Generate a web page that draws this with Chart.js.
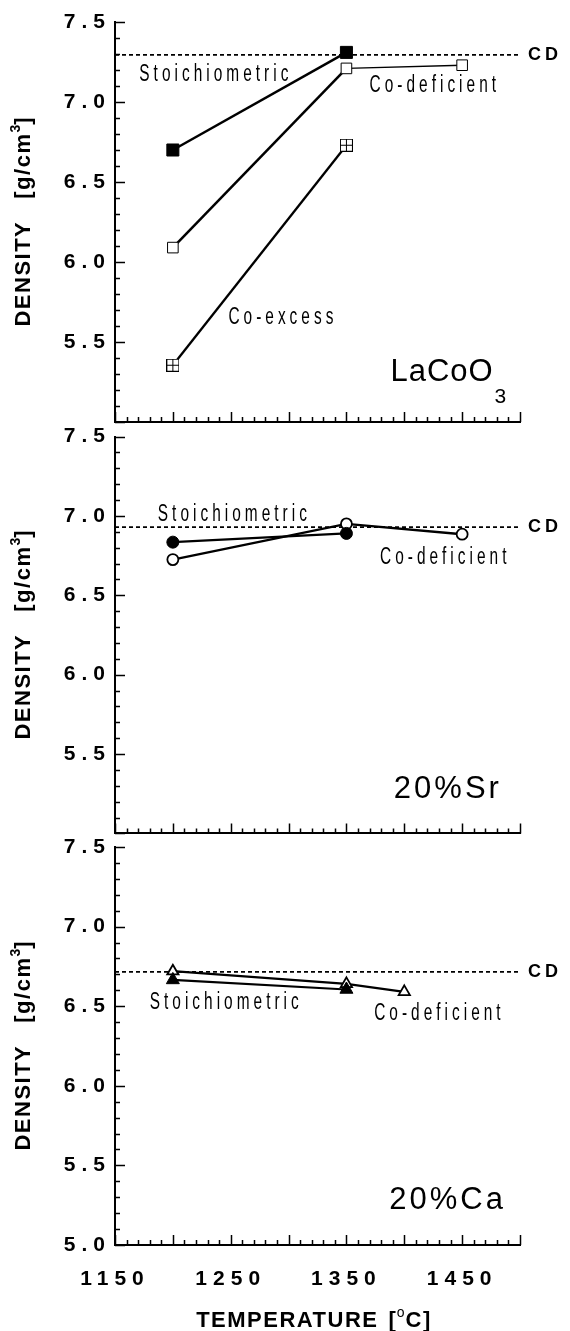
<!DOCTYPE html>
<html><head><meta charset="utf-8">
<script src="https://cdn.jsdelivr.net/npm/chart.js@4"></script>
<style>
html,body{margin:0;padding:0;background:#fff;}
#wrap{position:relative;width:570px;height:1331px;overflow:hidden;background:#fff;}
canvas{position:absolute;left:0;}
</style></head><body>
<div id="wrap">
<canvas id="c1" style="top:0px" width="570" height="440"></canvas>
<canvas id="c2" style="top:420px" width="570" height="430"></canvas>
<canvas id="c3" style="top:830px" width="570" height="501"></canvas>
</div>
<script>
// ---------------- data ----------------
const tempLa = [1200, 1350, 1450];
const laStoich = [6.70, 7.31];
const laCoDef = [6.09, 7.21, 7.23];
const laCoEx = [5.355, 6.73];
const laCD = 7.295;

const tempSr = [1200, 1350, 1450];
const srStoich = [6.835, 6.89];
const srCoDef = [6.725, 6.95, 6.885];
const srCD = 6.93;

const tempCa = [1200, 1350, 1400];
const caStoich = [6.665, 6.605];
const caCoDef = [6.72, 6.64, 6.59];
const caCD = 6.715;

const xRange = [1150, 1500];
const yRange = [5.0, 7.5];
const xTickLabels = [1150, 1250, 1350, 1450];
const yTickLabelsUpper = [5.5, 6.0, 6.5, 7.0, 7.5];
const yTickLabelsLower = [5.0, 5.5, 6.0, 6.5, 7.0, 7.5];

// ---------------- helpers ----------------
const FAM = '"Liberation Sans", Arial, Helvetica, sans-serif';
function pts(xs, ys) { return ys.map((y, i) => ({ x: xs[i], y: y })); }
function cdLine(v) { return xRange.map(x => ({ x: x, y: v })); }

function crossSquare() {
  const s = 13, c = document.createElement('canvas');
  c.width = s; c.height = s;
  const g = c.getContext('2d');
  g.fillStyle = '#fff'; g.fillRect(0, 0, s, s);
  g.strokeStyle = '#000'; g.lineWidth = 1;
  g.strokeRect(0.5, 0.5, s - 1, s - 1);
  g.beginPath();
  g.moveTo(6.5, 0.5); g.lineTo(6.5, s - 0.5);
  g.moveTo(0.5, 6.5); g.lineTo(s - 0.5, 6.5);
  g.stroke();
  return c;
}

function drawRun(ctx, parts, x, y, align, sx) {
  ctx.save();
  const ws = parts.map(p => {
    if (p.gap) return p.gap;
    ctx.font = p.font; ctx.letterSpacing = (p.ls || 0) + 'px';
    return ctx.measureText(p.t).width;
  });
  const total = ws.reduce((a, b) => a + b, 0);
  ctx.translate(x, y);
  ctx.scale(sx || 1, 1);
  let cx = align === 'center' ? -total / 2 : (align === 'right' ? -total : 0);
  ctx.textAlign = 'left'; ctx.textBaseline = 'middle'; ctx.fillStyle = '#000';
  parts.forEach((p, i) => {
    if (!p.gap) {
      ctx.font = p.font; ctx.letterSpacing = (p.ls || 0) + 'px';
      ctx.fillText(p.t, cx, p.dy || 0);
    }
    cx += ws[i];
  });
  ctx.restore();
}

const deco = {
  id: 'deco',
  beforeDraw(chart) { chart.ctx.letterSpacing = '6px'; },
  beforeDatasetsDraw(chart) {
    const ctx = chart.ctx; ctx.letterSpacing = '0px';
    const xs = chart.scales.x, ys = chart.scales.y, a = chart.chartArea;
    ctx.save();
    ctx.strokeStyle = '#000'; ctx.lineWidth = 1.5;
    ctx.beginPath();
    for (let k = 0; k <= 35; k++) {
      const v = xRange[0] + k * 10;
      const px = Math.round(xs.getPixelForValue(v)) + 0.5;
      const len = (k % 5 === 0) ? 10 : 5;
      ctx.moveTo(px, a.bottom); ctx.lineTo(px, a.bottom - len);
    }
    for (let k = 0; k <= 25; k++) {
      const v = yRange[0] + k * 0.1;
      const py = Math.round(ys.getPixelForValue(v)) + 0.5;
      const len = (k % 5 === 0) ? 10 : 5;
      ctx.moveTo(a.left, py); ctx.lineTo(a.left + len, py);
    }
    ctx.stroke();
    ctx.restore();
  },
  afterDraw(chart, args, opts) {
    const ctx = chart.ctx, xs = chart.scales.x, ys = chart.scales.y, a = chart.chartArea;
    ctx.save();
    ctx.letterSpacing = '0px';
    (opts.texts || []).forEach(o => {
      const x = xs.getPixelForValue(o.x), y = ys.getPixelForValue(o.y);
      drawRun(ctx, o.parts, x, y, 'left', o.sx || 1);
    });
    ctx.save();
    ctx.translate(24, (a.top + a.bottom) / 2);
    ctx.rotate(-Math.PI / 2);
    drawRun(ctx, [
      { t: 'DENSITY', font: 'bold 22px ' + FAM, ls: 1.5 },
      { gap: 22 },
      { t: '[g/cm', font: 'bold 22px ' + FAM, ls: 1.5 },
      { t: '3', font: 'bold 14px ' + FAM, ls: 0, dy: -8 },
      { t: ']', font: 'bold 22px ' + FAM, ls: 0 }
    ], 0, 0, 'center', 1);
    ctx.restore();
    if (opts.xTitle) {
      drawRun(ctx, [
        { t: 'TEMPERATURE', font: 'bold 22px ' + FAM, ls: 1.5 },
        { gap: 10 },
        { t: '[', font: 'bold 22px ' + FAM, ls: 1 },
        { t: 'o', font: '14px ' + FAM, ls: 1, dy: -8 },
        { t: 'C]', font: 'bold 22px ' + FAM, ls: 1.5 }
      ], 314, a.bottom + 76, 'center', 1);
    }
    ctx.restore();
  }
};

function lbl(t, x, y) {
  return { x: x, y: y, sx: 0.67, parts: [{ t: t, font: '23px ' + FAM, ls: 6 }] };
}
function cdLbl(y) {
  return { x: 1507, y: y, parts: [{ t: 'CD', font: 'bold 18px ' + FAM, ls: 4 }] };
}
function big(t, x, y, ls) {
  return { x: x, y: y, parts: [{ t: t, font: '31px ' + FAM, ls: ls }] };
}

function makeChart(id, datasets, o) {
  const near = (v, arr) => arr.some(a => Math.abs(a - v) < 1e-6);
  return new Chart(document.getElementById(id), {
    type: 'line',
    data: { datasets: datasets },
    plugins: [deco],
    options: {
      responsive: false, animation: false, devicePixelRatio: 1,
      layout: { padding: { top: o.padTop, right: 50, bottom: 0, left: 0 } },
      plugins: { legend: { display: false }, tooltip: { enabled: false }, deco: { texts: o.texts, xTitle: o.xTitle } },
      elements: { line: { tension: 0 } },
      scales: {
        x: {
          type: 'linear', min: xRange[0], max: xRange[1],
          afterFit: s => { s.height = o.xHeight; },
          grid: { display: false, drawTicks: false },
          border: { display: true, color: '#000', width: 2 },
          ticks: {
            display: o.showX, stepSize: 50, autoSkip: false, maxRotation: 0, padding: 22, color: '#000',
            font: { family: FAM, size: 21, weight: 'bold' },
            callback: v => near(v, xTickLabels) ? String(v) : ''
          }
        },
        y: {
          type: 'linear', min: yRange[0], max: yRange[1],
          afterFit: s => { s.width = 115; },
          grid: { display: false, drawTicks: false },
          border: { display: true, color: '#000', width: 2 },
          ticks: {
            stepSize: 0.5, autoSkip: false, padding: 4, color: '#000',
            font: { family: FAM, size: 21, weight: 'bold' },
            callback: v => near(v, o.yLabels) ? v.toFixed(1) : ''
          }
        }
      }
    }
  });
}

const crossImg = crossSquare();
const cdStyle = { borderColor: '#000', borderWidth: 1.8, borderDash: [4, 3], pointRadius: 0, fill: false };

// ---------- Panel 1: LaCoO3 ----------
makeChart('c1', [
  { label: 'Stoichiometric', data: pts(tempLa, laStoich), borderColor: '#000', borderWidth: 2.5,
    pointStyle: 'rect', pointRadius: 8.5, pointBackgroundColor: '#000', pointBorderColor: '#000', pointBorderWidth: 1 },
  { label: 'Co-deficient', data: pts(tempLa, laCoDef), borderColor: '#000', borderWidth: 2.5,
    segment: { borderWidth: c => c.p0DataIndex === 1 ? 1.4 : 2.5 },
    pointStyle: 'rect', pointRadius: 7.5, pointBackgroundColor: '#fff', pointBorderColor: '#000', pointBorderWidth: 1 },
  { label: 'Co-excess', data: pts(tempLa, laCoEx), borderColor: '#000', borderWidth: 2.3,
    pointStyle: crossImg, pointRadius: 7 },
  Object.assign({ label: 'CD', data: cdLine(laCD) }, cdStyle)
], {
  padTop: 22, xHeight: 18, showX: false, yLabels: yTickLabelsUpper,
  texts: [
    lbl('Stoichiometric', 1171, 7.17),
    lbl('Co-deficient', 1370, 7.10),
    lbl('Co-excess', 1248, 5.65),
    big('LaCoO', 1388, 5.31, 1),
    { x: 1478, y: 5.155, parts: [{ t: '3', font: '21px ' + FAM, ls: 0 }] },
    cdLbl(laCD)
  ]
});

// ---------- Panel 2: 20%Sr ----------
makeChart('c2', [
  { label: 'Stoichiometric', data: pts(tempSr, srStoich), borderColor: '#000', borderWidth: 2.4,
    pointStyle: 'circle', pointRadius: 6, pointBackgroundColor: '#000', pointBorderColor: '#000', pointBorderWidth: 1 },
  { label: 'Co-deficient', data: pts(tempSr, srCoDef), borderColor: '#000', borderWidth: 2.4,
    pointStyle: 'circle', pointRadius: 5.5, pointBackgroundColor: '#fff', pointBorderColor: '#000', pointBorderWidth: 1.8 },
  Object.assign({ label: 'CD', data: cdLine(srCD) }, cdStyle)
], {
  padTop: 16, xHeight: 16, showX: false, yLabels: yTickLabelsUpper,
  texts: [
    lbl('Stoichiometric', 1187, 7.01),
    lbl('Co-deficient', 1379, 6.735),
    big('20%Sr', 1391, 5.28, 3),
    cdLbl(srCD)
  ]
});

// ---------- Panel 3: 20%Ca ----------
makeChart('c3', [
  { label: 'Stoichiometric', data: pts(tempCa, caStoich), borderColor: '#000', borderWidth: 2.2,
    pointStyle: 'triangle', pointRadius: 7.5, pointBackgroundColor: '#000', pointBorderColor: '#000', pointBorderWidth: 1 },
  { label: 'Co-deficient', data: pts(tempCa, caCoDef), borderColor: '#000', borderWidth: 2.2,
    pointStyle: 'triangle', pointRadius: 6.5, pointBackgroundColor: '#fff', pointBorderColor: '#000', pointBorderWidth: 1.8 },
  Object.assign({ label: 'CD', data: cdLine(caCD) }, cdStyle)
], {
  padTop: 17, xHeight: 86, showX: true, yLabels: yTickLabelsLower, xTitle: true,
  texts: [
    lbl('Stoichiometric', 1180, 6.52),
    lbl('Co-deficient', 1374, 6.455),
    big('20%Ca', 1387, 5.28, 3),
    cdLbl(caCD)
  ]
});
</script>
</body></html>
